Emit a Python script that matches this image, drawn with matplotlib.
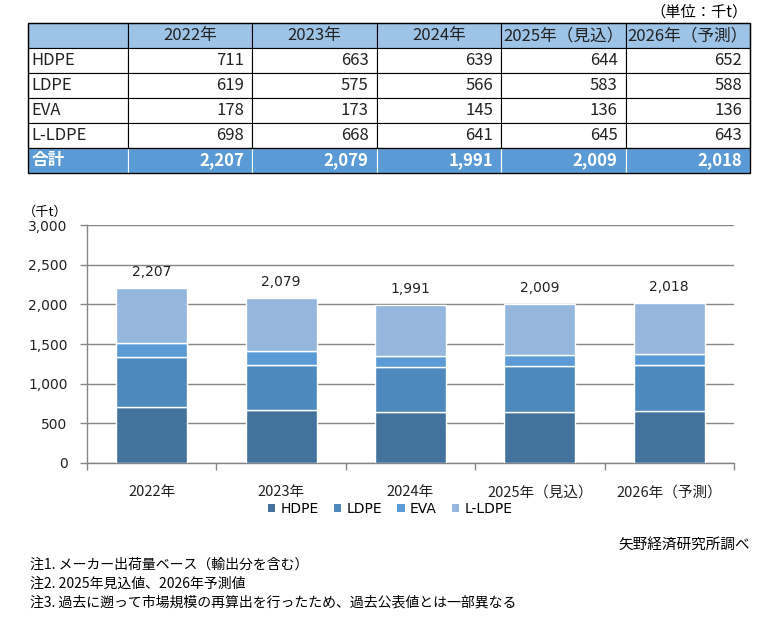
import matplotlib
matplotlib.use("Agg")
import numpy as np
import matplotlib.pyplot as plt
from matplotlib.table import Table
from matplotlib.patches import Rectangle, Patch

JP = ['Noto Sans CJK JP', 'DejaVu Sans']
NUM = ['DejaVu Sans', 'Noto Sans CJK JP']
plt.rcParams['font.family'] = JP

# data (千t)
years = ['2022年', '2023年', '2024年', '2025年（見込）', '2026年（予測）']
products = ['HDPE', 'LDPE', 'EVA', 'L-LDPE']
hdpe = [711, 663, 639, 644, 652]
ldpe = [619, 575, 566, 583, 588]
eva = [178, 173, 145, 136, 136]
lldpe = [698, 668, 641, 645, 643]
totals = [2207, 2079, 1991, 2009, 2018]
notes = ['注1. メーカー出荷量ベース（輸出分を含む）',
         '注2. 2025年見込値、2026年予測値',
         '注3. 過去に遡って市場規模の再算出を行ったため、過去公表値とは一部異なる']

colors = ['#43729d', '#4e89be', '#5b9bd5', '#95b7de']
head_col = '#9dc3e6'
total_col = '#5b9bd5'

W, H = 776, 620
fig = plt.figure(figsize=(W / 100, H / 100), dpi=100)


def rect(l, t, r, b):
    return [l / W, 1 - b / H, (r - l) / W, (b - t) / H]


# ---- table ----
tax = fig.add_axes(rect(28, 23, 750, 173))
tax.axis('off')
tb = Table(tax, bbox=[0, 0, 1, 1])
col_w = [100] + [124.4] * 5
series = [hdpe, ldpe, eva, lldpe]
rows = [[''] + years]
for name, vals in zip(products, series):
    rows.append([name] + [f'{v:,}' for v in vals])
rows.append(['合計'] + [f'{v:,}' for v in totals])
last = len(rows) - 1

for r, row in enumerate(rows):
    for c, txt in enumerate(row):
        if r == 0:
            loc, fc = 'center', head_col
        else:
            loc = 'left' if c == 0 else 'right'
            fc = total_col if r == last else 'white'
        cell = tb.add_cell(r, c, col_w[c], 25, text=txt, loc=loc, facecolor=fc)
        cell.PAD = 0.035 if c == 0 else 0.065
        cell.set_linewidth(0.8)
        cell.set_edgecolor('white' if r == last else 'black')
        t = cell.get_text()
        t.set_fontfamily(JP)
        t.set_fontsize(12)
        t.set_color('#222222')
        if r == last:
            t.set_color('white')
            t.set_fontweight('bold')
tb.auto_set_font_size(False)
tax.add_table(tb)
# black line above the total row and the outer frame
tax.axhline(1 / len(rows), color='black', linewidth=0.9, zorder=10)
tax.add_patch(Rectangle((0, 0), 1, 1, transform=tax.transAxes, fill=False,
                        edgecolor='black', linewidth=1.0, clip_on=False, zorder=10))
tax.set_xlim(0, 1)
tax.set_ylim(0, 1)

fig.text(748 / W, 1 - 12 / H, '（単位：千t）', ha='right', va='center', fontsize=11)

# ---- chart ----
ax = fig.add_axes(rect(87, 225, 734, 463))
x = np.arange(len(years))
bottom = np.zeros(len(years))
for name, vals, col in zip(products, series, colors):
    ax.bar(x, vals, 0.55, bottom=bottom, color=col, edgecolor='white',
           linewidth=1, label=name, zorder=3)
    bottom += np.array(vals)

for xi, tot in zip(x, totals):
    ax.annotate(f'{tot:,}', (xi, tot), xytext=(0, 11.5), textcoords='offset points',
                ha='center', va='center', fontsize=10, family=NUM, color='#222222')

ax.set_xlim(-0.5, len(years) - 0.5)
ax.set_ylim(0, 3000)
ax.set_yticks(np.arange(0, 3001, 500))
ax.set_yticklabels([f'{v:,}' for v in range(0, 3001, 500)], family=NUM, fontsize=10,
                   color='#222222')
ax.set_xticks(x)
ax.set_xticklabels(years, fontsize=10.5, color='#222222')
ax.set_xticks(np.arange(-0.5, len(years), 1), minor=True)
ax.tick_params(axis='x', which='major', length=0, pad=16)
ax.tick_params(axis='x', which='minor', length=5, color='#868686', width=1)
ax.tick_params(axis='y', length=5, color='#868686', width=1, pad=9)
ax.grid(axis='y', color='#868686', linewidth=1, zorder=0)
ax.set_axisbelow(True)
for s in ['top', 'right']:
    ax.spines[s].set_visible(False)
for s in ['left', 'bottom']:
    ax.spines[s].set_color('#868686')
    ax.spines[s].set_linewidth(1)

fig.text(68 / W, 1 - 212 / H, '（千t）', ha='right', va='center', fontsize=9.5)

handles = [Patch(facecolor=c, edgecolor='none', label=p) for c, p in zip(colors, products)]
fig.legend(handles=handles, loc='center', bbox_to_anchor=(390 / W, 1 - 509 / H), ncol=4,
           frameon=False, prop={'family': NUM, 'size': 10}, handlelength=0.55,
           handleheight=0.55, handletextpad=0.35, columnspacing=1.1)

fig.text(750 / W, 1 - 545 / H, '矢野経済研究所調べ', ha='right', va='center', fontsize=10.5)
for i, n in enumerate(notes):
    fig.text(30 / W, 1 - (565 + 18.5 * i) / H, n, ha='left', va='center', fontsize=10)

fig.savefig('out.png', dpi=100)
